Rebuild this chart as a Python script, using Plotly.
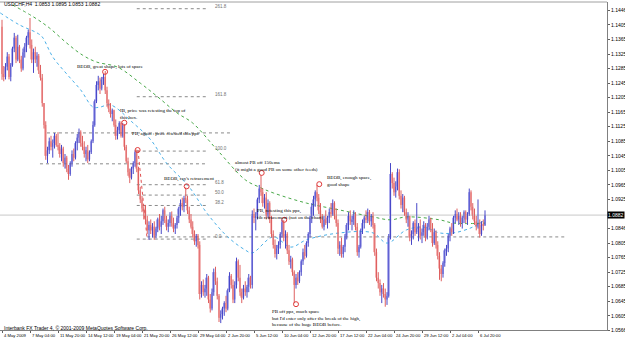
import plotly.graph_objects as go

# ---------------- data (USDCHF H4) ----------------
first_open = 1.1400
highs = [1.1419,1.1292,1.1300,1.1330,1.1325,1.1300,1.1345,1.1383,1.1375,1.1378,
         1.1350,1.1320,1.1340,1.1355,1.1375,1.1392,1.1424,1.1365,1.1340,1.1345,
         1.1330,1.1325,1.1295,1.1270,1.1190,1.1140,1.1070,1.1095,1.1100,1.1090,
         1.1108,1.1105,1.1110,1.1080,1.1075,1.1070,1.1050,1.1045,1.1020,1.1030,
         1.1060,1.1065,1.1085,1.1105,1.1120,1.1115,1.1100,1.1085,1.1070,1.1075,
         1.1060,1.1090,1.1140,1.1200,1.1250,1.1265,1.1260,1.1262,1.1270,1.1278,
         1.1235,1.1200,1.1190,1.1175,1.1172,1.1145,1.1125,1.1140,1.1140,1.1135,
         1.1132,1.1075,1.1040,1.1010,1.1015,1.1030,1.1060,1.1062,1.1015,1.0960,
         1.0935,1.0905,1.0910,1.0880,1.0865,1.0870,1.0860,1.0865,1.0850,1.0875,
         1.0885,1.0880,1.0900,1.0905,1.0880,1.0870,1.0890,1.0892,1.0875,1.0860,
         1.0880,1.0905,1.0925,1.0930,1.0935,1.0958,1.0935,1.0905,1.0885,1.0865,
         1.0840,1.0830,1.0830,1.0810,1.0700,1.0705,1.0690,1.0720,1.0715,1.0665,
         1.0680,1.0735,1.0740,1.0710,1.0665,1.0620,1.0630,1.0645,1.0660,1.0680,
         1.0725,1.0720,1.0705,1.0700,1.0765,1.0760,1.0745,1.0680,1.0690,1.0700,
         1.0690,1.0720,1.0715,1.0895,1.0900,1.0890,1.0930,1.0965,1.0992,1.0955,
         1.0940,1.0945,1.0925,1.0920,1.0880,1.0840,1.0815,1.0800,1.0810,1.0835,
         1.0870,1.0868,1.0840,1.0835,1.0800,1.0770,1.0765,1.0730,1.0720,1.0725,
         1.0730,1.0760,1.0790,1.0800,1.0810,1.0835,1.0880,1.0915,1.0935,1.0950,
         1.0965,1.0940,1.0915,1.0885,1.0880,1.0895,1.0880,1.0900,1.0915,1.0925,
         1.0920,1.0900,1.0870,1.0810,1.0820,1.0800,1.0830,1.0860,1.0890,1.0895,
         1.0880,1.0895,1.0890,1.0860,1.0800,1.0845,1.0870,1.0880,1.0895,1.0900,
         1.0896,1.0885,1.0890,1.0860,1.0790,1.0725,1.0705,1.0690,1.0695,1.0680,
         1.0670,1.0830,1.1025,1.1000,1.0985,1.0975,1.1010,1.1008,1.0950,1.0940,
         1.0935,1.0900,1.0890,1.0880,1.0840,1.0865,1.0870,1.0915,1.0860,1.0870,
         1.0845,1.0865,1.0860,1.0860,1.0880,1.0875,1.0860,1.0845,1.0840,1.0810,
         1.0780,1.0745,1.0755,1.0790,1.0800,1.0830,1.0850,1.0860,1.0880,1.0895,
         1.0900,1.0890,1.0890,1.0880,1.0895,1.0895,1.0890,1.0955,1.0950,1.0915,
         1.0900,1.0880,1.0925,1.0870,1.0865,1.0870,1.0895]
lows = [1.1254,1.1250,1.1255,1.1280,1.1255,1.1250,1.1290,1.1330,1.1300,1.1305,
        1.1300,1.1276,1.1280,1.1315,1.1330,1.1350,1.1340,1.1300,1.1273,1.1300,
        1.1290,1.1270,1.1252,1.1180,1.1120,1.1034,1.1025,1.1050,1.1060,1.1040,
        1.1065,1.1070,1.1060,1.1040,1.1030,1.1015,1.1010,1.1000,1.0979,1.0990,
        1.1015,1.1030,1.1035,1.1060,1.1080,1.1070,1.1060,1.1040,1.1030,1.1025,
        1.1030,1.1050,1.1080,1.1125,1.1190,1.1225,1.1215,1.1225,1.1240,1.1215,
        1.1180,1.1165,1.1150,1.1140,1.1125,1.1089,1.1090,1.1105,1.1095,1.1095,
        1.1060,1.1025,1.0990,1.0970,1.0980,1.0995,1.1015,1.1000,1.0940,1.0915,
        1.0890,1.0870,1.0860,1.0830,1.0814,1.0830,1.0820,1.0814,1.0818,1.0835,
        1.0840,1.0830,1.0855,1.0860,1.0840,1.0835,1.0850,1.0850,1.0835,1.0830,
        1.0845,1.0860,1.0880,1.0895,1.0890,1.0915,1.0885,1.0860,1.0845,1.0820,
        1.0800,1.0795,1.0790,1.0650,1.0655,1.0660,1.0655,1.0660,1.0640,1.0614,
        1.0620,1.0660,1.0690,1.0650,1.0588,1.0585,1.0595,1.0605,1.0615,1.0620,
        1.0670,1.0680,1.0640,1.0640,1.0680,1.0700,1.0660,1.0640,1.0650,1.0660,
        1.0655,1.0670,1.0680,1.0680,1.0860,1.0840,1.0870,1.0915,1.0935,1.0905,
        1.0900,1.0870,1.0875,1.0860,1.0820,1.0790,1.0765,1.0760,1.0775,1.0790,
        1.0820,1.0810,1.0790,1.0775,1.0745,1.0735,1.0715,1.0640,1.0680,1.0690,
        1.0695,1.0715,1.0745,1.0760,1.0765,1.0795,1.0820,1.0860,1.0880,1.0905,
        1.0920,1.0885,1.0860,1.0845,1.0840,1.0855,1.0845,1.0860,1.0875,1.0880,
        1.0870,1.0850,1.0775,1.0770,1.0765,1.0765,1.0780,1.0815,1.0840,1.0855,
        1.0840,1.0855,1.0840,1.0770,1.0765,1.0790,1.0830,1.0845,1.0860,1.0860,
        1.0855,1.0850,1.0845,1.0770,1.0700,1.0680,1.0660,1.0640,1.0655,1.0630,
        1.0635,1.0655,1.0815,1.0955,1.0935,1.0930,1.0950,1.0925,1.0900,1.0890,
        1.0880,1.0860,1.0850,1.0810,1.0800,1.0815,1.0825,1.0830,1.0810,1.0815,
        1.0805,1.0825,1.0810,1.0815,1.0840,1.0835,1.0795,1.0800,1.0790,1.0760,
        1.0704,1.0700,1.0710,1.0740,1.0770,1.0780,1.0810,1.0825,1.0830,1.0860,
        1.0865,1.0855,1.0850,1.0845,1.0860,1.0860,1.0855,1.0880,1.0895,1.0870,
        1.0855,1.0840,1.0845,1.0820,1.0825,1.0840,1.0853]
closes = [1.1270,1.1262,1.1290,1.1318,1.1262,1.1295,1.1340,1.1370,1.1310,1.1345,
          1.1310,1.1285,1.1330,1.1345,1.1370,1.1385,1.1350,1.1310,1.1330,1.1310,
          1.1320,1.1280,1.1260,1.1190,1.1130,1.1045,1.1060,1.1085,1.1070,1.1080,
          1.1100,1.1075,1.1070,1.1050,1.1065,1.1025,1.1040,1.1010,1.0995,1.1025,
          1.1050,1.1040,1.1080,1.1095,1.1110,1.1080,1.1070,1.1050,1.1060,1.1035,
          1.1055,1.1085,1.1130,1.1195,1.1240,1.1250,1.1230,1.1255,1.1262,1.1225,
          1.1190,1.1175,1.1160,1.1170,1.1130,1.1100,1.1115,1.1135,1.1100,1.1128,
          1.1070,1.1030,1.1000,1.0985,1.1010,1.1025,1.1055,1.1010,1.0950,1.0925,
          1.0900,1.0895,1.0870,1.0840,1.0855,1.0840,1.0850,1.0825,1.0845,1.0870,
          1.0850,1.0865,1.0895,1.0870,1.0850,1.0860,1.0880,1.0860,1.0845,1.0855,
          1.0875,1.0900,1.0915,1.0905,1.0928,1.0925,1.0895,1.0870,1.0850,1.0830,
          1.0810,1.0825,1.0800,1.0665,1.0690,1.0670,1.0680,1.0710,1.0650,1.0625,
          1.0670,1.0725,1.0700,1.0660,1.0600,1.0610,1.0625,1.0640,1.0625,1.0675,
          1.0715,1.0690,1.0650,1.0690,1.0755,1.0710,1.0670,1.0655,1.0680,1.0670,
          1.0685,1.0710,1.0690,1.0885,1.0875,1.0880,1.0925,1.0955,1.0945,1.0915,
          1.0930,1.0880,1.0915,1.0870,1.0830,1.0800,1.0775,1.0790,1.0800,1.0830,
          1.0862,1.0820,1.0830,1.0785,1.0755,1.0760,1.0725,1.0690,1.0710,1.0700,
          1.0725,1.0755,1.0780,1.0770,1.0805,1.0830,1.0875,1.0905,1.0925,1.0945,
          1.0930,1.0895,1.0870,1.0850,1.0870,1.0860,1.0875,1.0890,1.0885,1.0915,
          1.0880,1.0860,1.0790,1.0800,1.0775,1.0795,1.0825,1.0855,1.0880,1.0865,
          1.0870,1.0885,1.0850,1.0780,1.0795,1.0840,1.0860,1.0875,1.0870,1.0890,
          1.0865,1.0880,1.0855,1.0780,1.0710,1.0695,1.0670,1.0680,1.0665,1.0650,
          1.0660,1.0820,1.0995,1.0970,1.0945,1.0960,1.1000,1.0935,1.0910,1.0930,
          1.0890,1.0870,1.0880,1.0820,1.0830,1.0860,1.0835,1.0845,1.0850,1.0825,
          1.0835,1.0855,1.0820,1.0850,1.0870,1.0845,1.0805,1.0835,1.0800,1.0770,
          1.0735,1.0720,1.0750,1.0785,1.0790,1.0825,1.0845,1.0835,1.0875,1.0885,
          1.0870,1.0880,1.0860,1.0875,1.0890,1.0870,1.0885,1.0945,1.0905,1.0880,
          1.0865,1.0850,1.0860,1.0830,1.0855,1.0853,1.0882]

date_labels = ["4 May 2009", "7 May 04:00", "11 May 20:00", "14 May 12:00",
               "19 May 04:00", "21 May 20:00", "26 May 12:00", "29 May 04:00",
               "2 Jun 20:00", "5 Jun 12:00", "10 Jun 04:00", "12 Jun 20:00",
               "17 Jun 12:00", "22 Jun 04:00", "24 Jun 20:00", "29 Jun 12:00",
               "2 Jul 04:00", "6 Jul 20:00"]
date_label_bars = [0, 16, 32, 48, 64, 80, 96, 112, 128, 144, 160, 176, 192,
                   208, 224, 240, 256, 272]

price_ticks = [1.1446, 1.1405, 1.1365, 1.1325, 1.1285, 1.1245, 1.1205, 1.1165,
               1.1125, 1.1085, 1.1045, 1.1005, 1.0965, 1.0925, 1.0846,
               1.0805, 1.0765, 1.0725, 1.0685, 1.0645, 1.0605, 1.0566]
last_price = 1.0882

# moving averages (dotted lines) sampled at bar positions
ema_slow_bars = [6, 18, 27, 37, 46, 54, 66, 79, 89, 100, 109, 123, 139, 147,
                 155, 174, 193, 212, 222, 231, 250, 258, 276]
ema_slow_vals = [1.1460, 1.1427, 1.1397, 1.1355, 1.1322, 1.1303, 1.1289, 1.1245,
                 1.1207, 1.1163, 1.1135, 1.1061, 1.0979, 1.0959, 1.0943, 1.0915,
                 1.0896, 1.0877, 1.0869, 1.0877, 1.0869, 1.0860, 1.0860]
ema_fast_bars = [-1, 10, 20, 23, 29, 37, 45, 52, 56, 62, 75, 85, 94, 107, 117,
                 129, 139, 143, 155, 165, 174, 193, 212, 220, 231, 241, 250,
                 258, 269, 276]
ema_fast_vals = [1.1438, 1.1405, 1.1383, 1.1372, 1.1317, 1.1270, 1.1226, 1.1179,
                 1.1179, 1.1185, 1.1135, 1.1089, 1.1025, 1.0959, 1.0888, 1.0822,
                 1.0786, 1.0778, 1.0822, 1.0794, 1.0814, 1.0833, 1.0833, 1.0805,
                 1.0841, 1.0849, 1.0833, 1.0833, 1.0849, 1.0869]

# fibonacci object
fib_start_bar, fib_end_bar = 77, 117
fib_zero, fib_hundred = 1.0816, 1.1058
fib_ratios = [0.0, 0.382, 0.5, 0.618, 1.0, 1.618, 2.618]
fib_texts = ["0.0", "38.2", "50.0", "61.8", "100.0", "161.8", "261.8"]
fib_trend_bars = [77.7, 83]
fib_trend_vals = [1.1061, 1.0814]

# other horizontal levels: (start bar, end bar, price)
level_starts = [25.7, 21.7, 83]
level_ends = [131.4, 116, 323]
level_prices = [1.1108, 1.1023, 1.0822]

# signal circles
signal_bars = [58.9, 69.9, 77.5, 105.5, 148.4, 161.3, 168, 181.3]
signal_prices = [1.1276, 1.1136, 1.1061, 1.0961, 1.0998, 1.0869, 1.0637, 1.0967]

# notes
note_texts = ["BEOB, great shape, lots of space",
              "IB, price was retesting the top of<br>this box.",
              "PB, again : price retested this ppz",
              "BEOB, ray's retracement",
              "almost PB off 150ema<br>(it might a good PB on some other feeds)",
              "PB, retesting this ppz,<br>fib retracement (not on the chart)",
              "BEOB, enough space,<br>good shape",
              "PB off ppz, much space<br>but I'd enter only after the break of the high,<br>because of the huge BEOB before."]
note_bars = [41.7, 66.3, 73.1, 91.4, 132.0, 144.6, 184.6, 153.1]
note_prices = [1.1289, 1.1161, 1.1105, 1.0981, 1.1016, 1.0886, 1.0977, 1.0599]

# ---------------- figure ----------------
opens = [first_open] + closes[:-1]
bars = list(range(len(closes)))
hi = [max(h, o, c) for h, o, c in zip(highs, opens, closes)]
lo = [min(l, o, c) for l, o, c in zip(lows, opens, closes)]

X0, X1 = -1.143, 345.71
Y0, Y1 = 1.0566, 1.1468

BULL_LINE, BULL_FILL = "#4848c8", "#acacee"
BEAR_LINE, BEAR_FILL = "#de6060", "#f6b4b4"

fig = go.Figure()

fig.add_trace(go.Scatter(x=[X0, X1], y=[last_price, last_price], mode="lines",
                         line=dict(color="#c8c8c8", width=1), hoverinfo="skip"))

for s, e, p in zip(level_starts, level_ends, level_prices):
    fig.add_trace(go.Scatter(x=[s, e], y=[p, p], mode="lines",
                             line=dict(color="#8a8a8a", width=1, dash="dot"),
                             hoverinfo="skip"))

for r in fib_ratios:
    p = fib_zero + r * (fib_hundred - fib_zero)
    fig.add_trace(go.Scatter(x=[fib_start_bar, fib_end_bar], y=[p, p], mode="lines",
                             line=dict(color="#8a8a8a", width=1, dash="dot"),
                             hoverinfo="skip"))
fig.add_trace(go.Scatter(x=fib_trend_bars, y=fib_trend_vals, mode="lines",
                         line=dict(color="#e05050", width=1, dash="dot"),
                         hoverinfo="skip"))

fig.add_trace(go.Scatter(x=ema_slow_bars, y=ema_slow_vals, mode="lines",
                         line=dict(color="#48a848", width=1, dash="dot", shape="spline"),
                         hoverinfo="skip"))
fig.add_trace(go.Scatter(x=ema_fast_bars, y=ema_fast_vals, mode="lines",
                         line=dict(color="#4ab0e8", width=1, dash="dot", shape="spline"),
                         hoverinfo="skip"))

# candle bodies (bars with base) and wicks (line segments)
for is_bull, body_col, wick_col in [(True, BULL_FILL, BULL_LINE), (False, BEAR_FILL, BEAR_LINE)]:
    bx, bbase, bh, wx, wy = [], [], [], [], []
    for i, o, h, l, c in zip(bars, opens, hi, lo, closes):
        if (c >= o) != is_bull:
            continue
        bx.append(i)
        bbase.append(min(o, c))
        bh.append(max(abs(c - o), 0.00012))
        wx += [i, i, None]
        wy += [l, h, None]
    fig.add_trace(go.Bar(x=bx, y=bh, base=bbase, width=0.9,
                         marker=dict(color=body_col, line=dict(width=0)),
                         hoverinfo="skip"))
    fig.add_trace(go.Scatter(x=wx, y=wy, mode="lines",
                             line=dict(color=wick_col, width=1),
                             hoverinfo="skip"))

fig.add_trace(go.Scatter(x=signal_bars, y=signal_prices, mode="markers",
                         marker=dict(symbol="circle-open", size=5, color="#e03a3a",
                                     line=dict(color="#e03a3a", width=1)),
                         hoverinfo="skip"))

serif = "Liberation Serif"
sans = "Liberation Sans"
annotations = []
for t, b, p in zip(note_texts, note_bars, note_prices):
    annotations.append(dict(x=b, y=p, xref="x", yref="y", text=t, showarrow=False,
                            xanchor="left", yanchor="middle", align="left",
                            font=dict(family=serif, size=5, color="black")))
for r, t in zip(fib_ratios, fib_texts):
    p = fib_zero + r * (fib_hundred - fib_zero)
    annotations.append(dict(x=fib_end_bar + 3.3, y=p, xref="x", yref="y", text=t,
                            showarrow=False, xanchor="left", yanchor="bottom",
                            yshift=-2,
                            font=dict(family=sans, size=4.5, color="#707070")))
for b, t in zip(date_label_bars, date_labels):
    annotations.append(dict(x=b, y=0, xref="x", yref="paper", text=t,
                            showarrow=False, xanchor="left", yanchor="top",
                            xshift=0, yshift=-1,
                            font=dict(family=sans, size=4.2, color="black")))
annotations.append(dict(x=0.003, y=1.1462, xref="paper", yref="y",
                        text="USDCHF,H4  1.0853 1.0895 1.0853 1.0882",
                        showarrow=False, xanchor="left", yanchor="middle",
                        font=dict(family=sans, size=5, color="black")))
annotations.append(dict(x=0.003, y=1.0572, xref="paper", yref="y",
                        text="Interbank FX Trader 4, \u00a9 2001-2009 MetaQuotes Software Corp.",
                        showarrow=False, xanchor="left", yanchor="middle",
                        font=dict(family=sans, size=5, color="black")))
annotations.append(dict(x=1.0, y=last_price, xref="paper", yref="y",
                        text="1.0882", showarrow=False, xanchor="left",
                        yanchor="middle", bgcolor="black", borderpad=0,
                        font=dict(family=sans, size=5, color="white")))

fig.update_layout(
    width=625, height=340,
    margin=dict(l=0, r=18, t=2, b=10),
    paper_bgcolor="white", plot_bgcolor="white",
    showlegend=False, barmode="overlay",
    annotations=annotations,
    shapes=[dict(type="line", xref="paper", yref="paper", x0=0, x1=1, y0=1, y1=1,
                 line=dict(color="#a0a0a0", width=1))],
    xaxis=dict(range=[X0, X1], tickvals=date_label_bars, showticklabels=False,
               ticks="outside", ticklen=2, tickcolor="#606060",
               showline=True, linecolor="#808080", linewidth=1,
               showgrid=False, zeroline=False, automargin=False),
    yaxis=dict(range=[Y0, Y1], side="right", tickvals=price_ticks,
               ticktext=["%.4f" % v for v in price_ticks],
               ticks="outside", ticklen=2, tickcolor="#606060",
               showline=True, linecolor="#808080", linewidth=1,
               showgrid=False, zeroline=False, automargin=False,
               tickfont=dict(family=sans, size=5, color="black")),
)

fig.write_html("out.html")
